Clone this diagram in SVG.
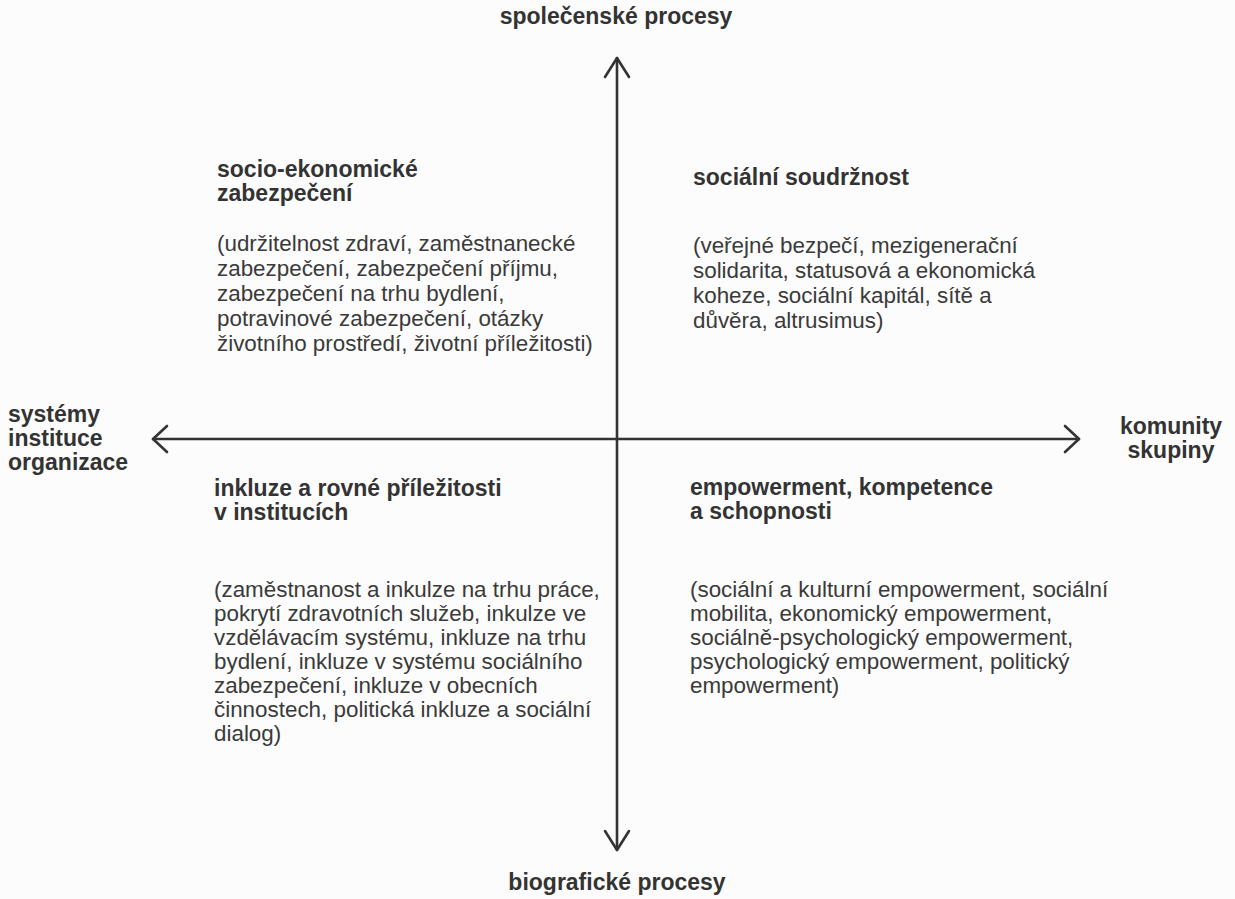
<svg xmlns="http://www.w3.org/2000/svg" width="1235" height="899" viewBox="0 0 1235 899">
<style>
text{font-family:"Liberation Sans",Arial,sans-serif;fill:#3a3a3a;font-size:22.4px}
.b{font-weight:bold;fill:#333;font-size:23px}
.ax{stroke:#333;stroke-width:2.6;fill:none;stroke-linecap:round;stroke-linejoin:round}
</style>
<rect width="1235" height="899" fill="#fcfcfc"/>
<g id="connectors">
<line class="ax" x1="617" y1="58" x2="617" y2="850"/>
<path class="ax" d="M605,77 L617,58 L629,77"/>
<path class="ax" d="M605,831 L617,850 L629,831"/>
<line class="ax" x1="153" y1="439" x2="1079" y2="439"/>
<path class="ax" d="M167,426 L153,439 L167,452"/>
<path class="ax" d="M1065,426 L1079,439 L1065,452"/>
</g>
<g id="axis-top"><text class="b" x="616" y="24" text-anchor="middle">společenské procesy</text></g>
<g id="axis-bottom"><text class="b" x="617" y="890" text-anchor="middle">biografické procesy</text></g>
<g id="axis-left"><text class="b" x="8" y="422">systémy</text><text class="b" x="8" y="446">instituce</text><text class="b" x="8" y="470">organizace</text></g>
<g id="axis-right"><text class="b" x="1171" y="434" text-anchor="middle">komunity</text><text class="b" x="1171" y="458" text-anchor="middle">skupiny</text></g>
<g id="q-top-left">
<text class="b" x="217" y="177">socio-ekonomické</text>
<text class="b" x="217" y="201">zabezpečení</text>
<text x="217" y="251">(udržitelnost zdraví, zaměstnanecké</text>
<text x="217" y="276">zabezpečení, zabezpečení příjmu,</text>
<text x="217" y="301">zabezpečení na trhu bydlení,</text>
<text x="217" y="326">potravinové zabezpečení, otázky</text>
<text x="217" y="351">životního prostředí, životní příležitosti)</text>
</g>
<g id="q-top-right">
<text class="b" x="693" y="185">sociální soudržnost</text>
<text x="693" y="253">(veřejné bezpečí, mezigenerační</text>
<text x="693" y="278">solidarita, statusová a ekonomická</text>
<text x="693" y="303">koheze, sociální kapitál, sítě a</text>
<text x="693" y="328">důvěra, altrusimus)</text>
</g>
<g id="q-bottom-left">
<text class="b" x="214" y="496">inkluze a rovné příležitosti</text>
<text class="b" x="214" y="520">v institucích</text>
<text x="214" y="597">(zaměstnanost a inkulze na trhu práce,</text>
<text x="214" y="621">pokrytí zdravotních služeb, inkulze ve</text>
<text x="214" y="645">vzdělávacím systému, inkluze na trhu</text>
<text x="214" y="669">bydlení, inkluze v systému sociálního</text>
<text x="214" y="693">zabezpečení, inkluze v obecních</text>
<text x="214" y="717">činnostech, politická inkluze a sociální</text>
<text x="214" y="741">dialog)</text>
</g>
<g id="q-bottom-right">
<text class="b" x="690" y="495">empowerment, kompetence</text>
<text class="b" x="690" y="519">a schopnosti</text>
<text x="690" y="597">(sociální a kulturní empowerment, sociální</text>
<text x="690" y="621">mobilita, ekonomický empowerment,</text>
<text x="690" y="645">sociálně-psychologický empowerment,</text>
<text x="690" y="669">psychologický empowerment, politický</text>
<text x="690" y="693">empowerment)</text>
</g>
</svg>
